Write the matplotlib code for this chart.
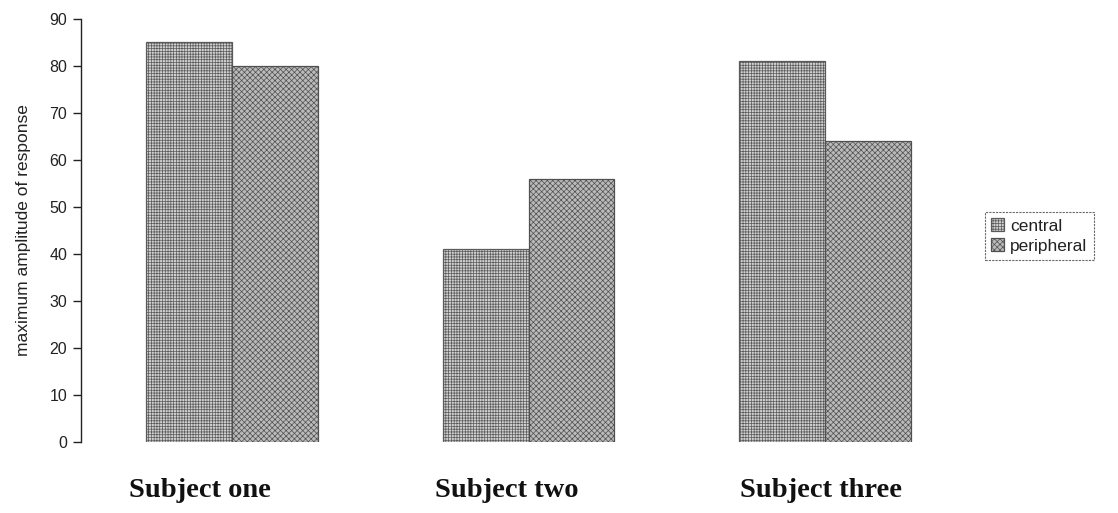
import matplotlib
matplotlib.use("Agg")
import matplotlib.pyplot as plt
import numpy as np

# Data
subjects = ["Subject one", "Subject two", "Subject three"]
series_names = ["central", "peripheral"]
central = [85, 41, 81]
peripheral = [80, 56, 64]
y_ticks = [0, 10, 20, 30, 40, 50, 60, 70, 80, 90]
y_label = "maximum amplitude of response"

plt.rcParams["font.family"] = ["Liberation Sans", "DejaVu Sans"]
plt.rcParams["hatch.linewidth"] = 0.5

fig = plt.figure(figsize=(11.18, 5.13), dpi=100)
ax = fig.add_axes([0.0725, 0.1384, 0.8005, 0.8246])

x = np.arange(len(subjects))
width = 0.29

ax.bar(x - width / 2, central, width, facecolor="#d0d0d0", edgecolor="#5a5a5a",
       hatch="++++++", linewidth=0.9, label=series_names[0])
ax.bar(x + width / 2, peripheral, width, facecolor="#bababa", edgecolor="#505050",
       hatch="xxxxxx", linewidth=0.9, label=series_names[1])

ax.set_xlim(-0.51, 2.51)
ax.set_ylim(0, 90)
ax.set_yticks(y_ticks)
ax.set_yticklabels([str(t) for t in y_ticks], fontsize=11.5, color="#222222")
ax.tick_params(axis="y", direction="out", length=6, width=1, pad=4, colors="#222222")
ax.set_xticks([])

for side in ("top", "right", "bottom"):
    ax.spines[side].set_visible(False)
ax.spines["left"].set_linewidth(1.0)
ax.spines["left"].set_color("#222222")

ax.set_ylabel(y_label, fontsize=12.5, color="#222222", labelpad=13)

# Category labels under the bar pairs
label_offsets = [-0.109, -0.075, -0.013]
for i, (name, dx) in enumerate(zip(subjects, label_offsets)):
    ax.text(i + dx, -0.115, name, transform=ax.get_xaxis_transform(),
            ha="center", va="center", fontsize=20.5, fontweight="bold",
            family=["Liberation Serif", "DejaVu Serif"], color="#111111")

leg = fig.legend(loc="center left", bbox_to_anchor=(985 / 1118, 277 / 513),
                 fontsize=12.5, frameon=True, fancybox=False, handlelength=0.75,
                 handleheight=0.75, handletextpad=0.35, borderpad=0.35,
                 labelspacing=0.25, borderaxespad=0)
leg.get_frame().set_edgecolor("#444444")
leg.get_frame().set_linewidth(0.8)
leg.get_frame().set_linestyle((0, (2, 1)))
for t in leg.get_texts():
    t.set_color("#222222")

fig.savefig("out.png", dpi=100)
